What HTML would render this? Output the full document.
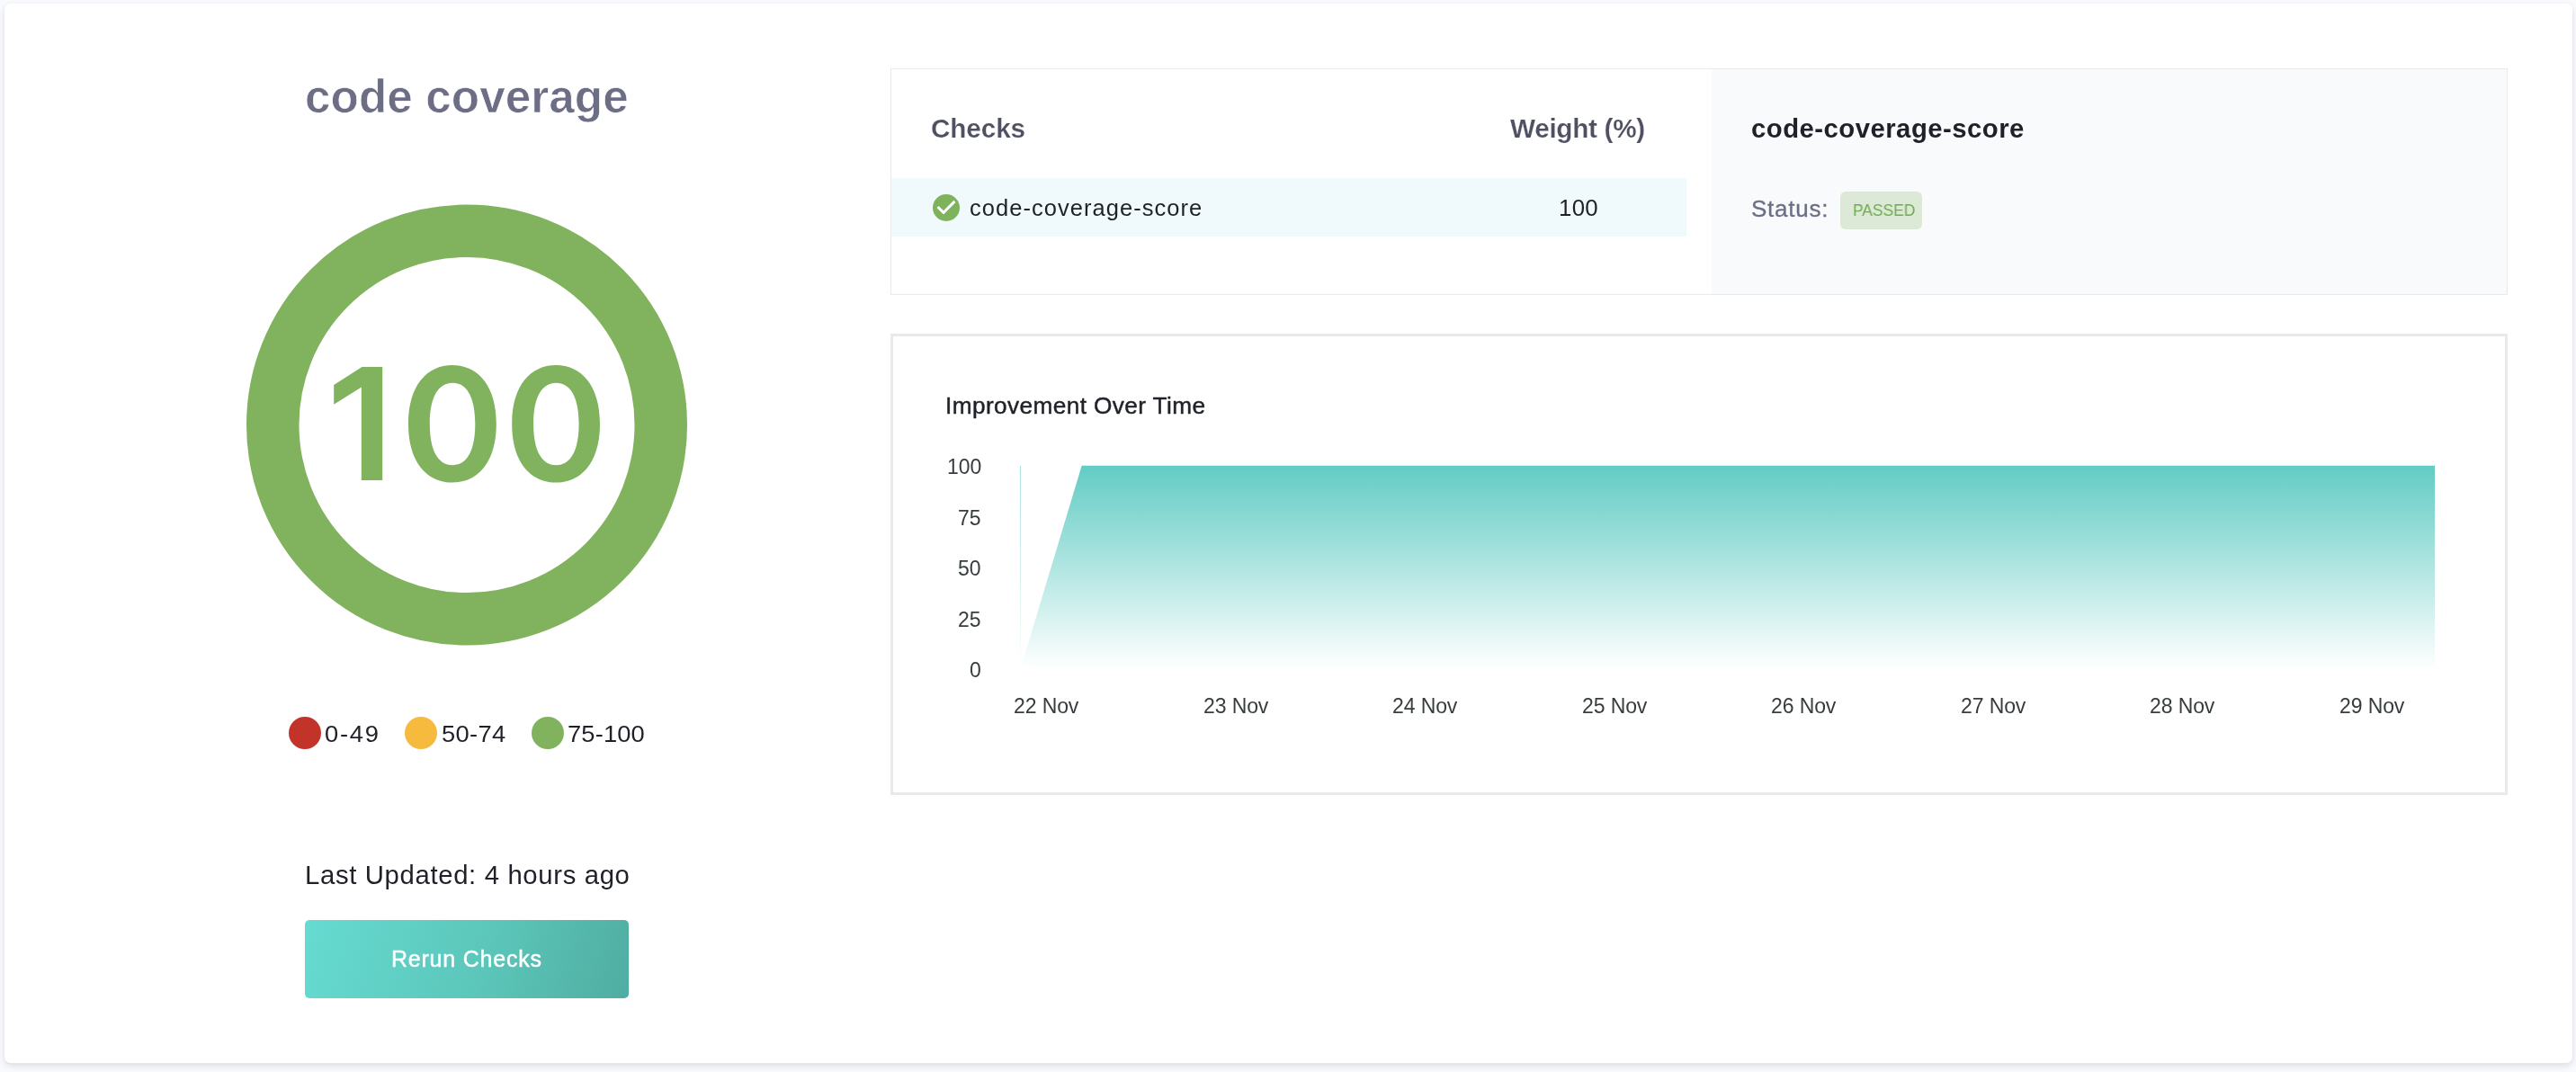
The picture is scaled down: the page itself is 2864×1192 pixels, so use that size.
<!DOCTYPE html>
<html>
<head>
<meta charset="utf-8">
<title>code coverage</title>
<style>
*{margin:0;padding:0;box-sizing:border-box;}
html,body{width:2864px;height:1192px;overflow:hidden;}
body{background:#f9fafe;font-family:"Liberation Sans",sans-serif;position:relative;color:#1f2128;}
.card{position:absolute;left:5px;top:4px;width:2855px;height:1178px;background:#fff;border-radius:7px;box-shadow:0 3px 7px rgba(50,51,56,0.15);}
.t{position:absolute;white-space:nowrap;transform-origin:0 0;will-change:transform;}
.dot{position:absolute;width:36px;height:36px;border-radius:50%;top:797px;}
.btn{position:absolute;left:339px;top:1023px;width:360px;height:87px;border-radius:5px;background:linear-gradient(106deg,#66dbd1 0%,#5cc6ba 55%,#50ada1 100%);}
.p1{position:absolute;left:990px;top:76px;width:1798px;height:252px;border:1px solid #e9eaee;background:#fff;}
.p1d{position:absolute;left:1903px;top:77px;width:884px;height:250px;background:#f9fafc;}
.row{position:absolute;left:991px;top:198px;width:884px;height:65px;background:#f0fafd;}
.p2{position:absolute;left:990px;top:371px;width:1798px;height:513px;border:3px solid #e8e9eb;background:#fff;}
.ax{font-size:23px;color:#373d3f;letter-spacing:-0.1px;}
</style>
</head>
<body>
<div class="card"></div>

<div class="t" style="left:338.9px;top:79px;font-size:51.2px;line-height:57px;letter-spacing:0.1px;font-weight:700;color:#6b6e85;-webkit-text-stroke:0.7px #fff;">code coverage</div>

<div class="p1"></div>
<div class="p1d"></div>
<div class="row"></div>
<div class="p2"></div>

<svg style="position:absolute;left:0;top:0;" width="2864" height="1192">
<defs>
<linearGradient id="g" x1="0" y1="0" x2="0" y2="1"><stop offset="0" stop-color="#62ccc4"/><stop offset="1" stop-color="#ffffff"/></linearGradient>
<linearGradient id="g2" x1="0" y1="0" x2="0" y2="1"><stop offset="0" stop-color="#a9e2dd"/><stop offset="1" stop-color="#ffffff"/></linearGradient>
</defs>
<!-- score ring -->
<circle cx="519" cy="472.5" r="215.75" fill="none" stroke="#81b35f" stroke-width="58.5"/>
<path fill="#81b35f" d="M402.5 407.9 L425.2 407.9 L425.2 534 L401.8 534 L401.8 430.6 L371.2 449.7 L371.2 428.1 Z M454.0 471.4 C454.0 428.3 475.0 406.1 502.9 406.1 C530.8 406.1 551.8 428.3 551.8 471.4 C551.8 514.4 530.8 536.6 502.9 536.6 C475.0 536.6 454.0 514.4 454.0 471.4Z M477.8 471.5 C477.8 503.5 488.5 517.2 503.1 517.2 C517.7 517.2 528.3 503.5 528.3 471.5 C528.3 439.5 517.7 425.8 503.1 425.8 C488.5 425.8 477.8 439.5 477.8 471.5Z M569.2 471.4 C569.2 428.3 590.2 406.1 618.1 406.1 C646.0 406.1 667.0 428.3 667.0 471.4 C667.0 514.4 646.0 536.6 618.1 536.6 C590.2 536.6 569.2 514.4 569.2 471.4Z M593.1 471.5 C593.1 503.5 603.7 517.2 618.3 517.2 C632.9 517.2 643.6 503.5 643.6 471.5 C643.6 439.5 632.9 425.8 618.3 425.8 C603.7 425.8 593.1 439.5 593.1 471.5Z"/>
<!-- check icon -->
<circle cx="1052" cy="231" r="15" fill="#7fb25d"/>
<path fill="#fff" transform="translate(1034 213) scale(1.5)" d="M10 17l-5-5 1.41-1.41L10 14.17l7.59-7.59L19 8l-9 9z"/>
<!-- chart -->
<rect x="1134" y="518" width="1" height="226" fill="url(#g2)"/>
<path d="M1134.5 744 L1202.7 517.7 L2707 517.7 L2707 744 Z" fill="url(#g)"/>
</svg>

<div class="dot" style="left:321px;background:#c23329;"></div>
<div class="t" style="left:361.1px;top:802px;font-size:25.8px;line-height:28px;letter-spacing:1.67px;transform:scaleX(1.06);">0-49</div>
<div class="dot" style="left:450px;background:#f5ba3e;"></div>
<div class="t" style="left:490.6px;top:802px;font-size:25.8px;line-height:28px;letter-spacing:0.31px;transform:scaleX(1.06);">50-74</div>
<div class="dot" style="left:591px;background:#81b35f;"></div>
<div class="t" style="left:631.0px;top:802px;font-size:25.8px;line-height:28px;letter-spacing:0.12px;transform:scaleX(1.06);">75-100</div>

<div class="t" style="left:338.7px;top:956px;font-size:29.3px;line-height:33px;letter-spacing:0.65px;">Last Updated: 4 hours ago</div>
<div class="btn"></div>
<div class="t" style="left:434.8px;top:1052px;font-size:25px;line-height:28px;letter-spacing:0.78px;color:#fff;-webkit-text-stroke:0.45px #fff;">Rerun Checks</div>

<div class="t" style="left:1034.8px;top:126px;font-size:29.7px;line-height:33px;letter-spacing:-0.1px;font-weight:700;color:#4f5162;-webkit-text-stroke:0.2px #fff;">Checks</div>
<div class="t" style="left:1679.2px;top:126px;font-size:29.7px;line-height:33px;letter-spacing:-0.29px;font-weight:700;color:#4f5162;-webkit-text-stroke:0.2px #fff;">Weight (%)</div>
<div class="t" style="left:1077.8px;top:217px;font-size:25.5px;line-height:28px;letter-spacing:1.04px;">code-coverage-score</div>
<div class="t" style="left:1733.4px;top:217px;font-size:25.8px;line-height:28px;letter-spacing:0.3px;">100</div>

<div class="t" style="left:1946.8px;top:126px;font-size:29.3px;line-height:33px;letter-spacing:0.48px;font-weight:700;">code-coverage-score</div>
<div class="t" style="left:1946.7px;top:217px;font-size:26px;line-height:30px;letter-spacing:0.75px;color:#6b6e85;-webkit-text-stroke:0.3px #6b6e85;">Status:</div>
<div style="position:absolute;left:2046px;top:213px;width:91px;height:42px;border-radius:6px;background:#dce9d7;"></div>
<div class="t" style="left:2060.2px;top:223px;font-size:18.8px;line-height:21px;letter-spacing:-0.07px;transform:scaleX(0.93);color:#6fab4f;">PASSED</div>

<div class="t" style="left:1050.5px;top:436px;font-size:26.2px;line-height:30px;letter-spacing:0.41px;-webkit-text-stroke:0.45px #1f2128;">Improvement Over Time</div>

<div class="t ax" style="left:1052.6px;top:506px;line-height:26px;">100</div>
<div class="t ax" style="left:1065.4px;top:563px;line-height:26px;">75</div>
<div class="t ax" style="left:1065.4px;top:619px;line-height:26px;">50</div>
<div class="t ax" style="left:1065.4px;top:676px;line-height:26px;">25</div>
<div class="t ax" style="left:1078.2px;top:732px;line-height:26px;">0</div>

<div class="t ax" style="left:1127.2px;top:772px;line-height:26px;">22 Nov</div>
<div class="t ax" style="left:1337.7px;top:772px;line-height:26px;">23 Nov</div>
<div class="t ax" style="left:1548.2px;top:772px;line-height:26px;">24 Nov</div>
<div class="t ax" style="left:1758.7px;top:772px;line-height:26px;">25 Nov</div>
<div class="t ax" style="left:1969.2px;top:772px;line-height:26px;">26 Nov</div>
<div class="t ax" style="left:2179.7px;top:772px;line-height:26px;">27 Nov</div>
<div class="t ax" style="left:2390.2px;top:772px;line-height:26px;">28 Nov</div>
<div class="t ax" style="left:2600.7px;top:772px;line-height:26px;">29 Nov</div>
</body>
</html>
